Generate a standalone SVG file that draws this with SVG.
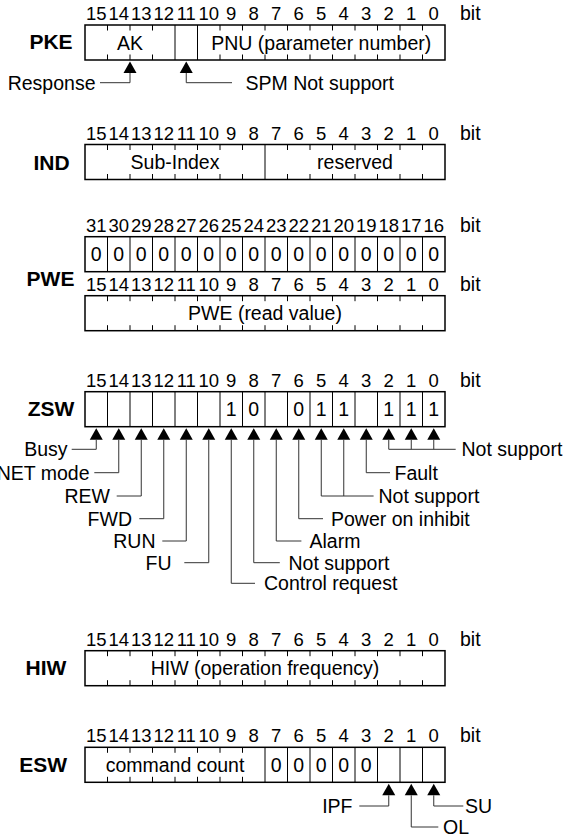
<svg xmlns="http://www.w3.org/2000/svg" xmlns:xlink="http://www.w3.org/1999/xlink" width="566" height="838" viewBox="0 0 566 838">
<style>
text{font-family:"Liberation Sans",Arial,Helvetica,sans-serif;font-size:19.5px;fill:#000}
.c{text-anchor:middle}
.n text{font-size:18.5px}
.e{text-anchor:end}
.h{font-weight:bold;font-size:21px;text-anchor:middle}
.box{fill:#fff;stroke:#000;stroke-width:1.5}
.ln{fill:none;stroke:#000;stroke-width:1}
.cn{fill:none;stroke:#333;stroke-width:1}
</style>
<defs>
<path id="ar" d="M0,0 L-6.5,11.5 L6.5,11.5 Z" fill="#000"/>
</defs>
<rect width="566" height="838" fill="#fff"/>

<g id="pke">
<text class="h" x="51" y="49">PKE</text>
<g class="c n"><text x="96.25" y="20">15</text><text x="118.75" y="20">14</text><text x="141.25" y="20">13</text><text x="163.75" y="20">12</text><text x="186.25" y="20">11</text><text x="208.75" y="20">10</text><text x="231.25" y="20">9</text><text x="253.75" y="20">8</text><text x="276.25" y="20">7</text><text x="298.75" y="20">6</text><text x="321.25" y="20">5</text><text x="343.75" y="20">4</text><text x="366.25" y="20">3</text><text x="388.75" y="20">2</text><text x="411.25" y="20">1</text><text x="433.75" y="20">0</text></g>
<text x="460" y="20">bit</text>
<rect class="box" x="85" y="25" width="360" height="35"/>
<path class="ln" d="M107.5,25v5.5M130,25v5.5M152.5,25v5.5M220,25v5.5M242.5,25v5.5M265,25v5.5M287.5,25v5.5M310,25v5.5M332.5,25v5.5M355,25v5.5M377.5,25v5.5M400,25v5.5M422.5,25v5.5M107.5,60v-5.5M130,60v-5.5M152.5,60v-5.5M220,60v-5.5M242.5,60v-5.5M265,60v-5.5M287.5,60v-5.5M310,60v-5.5M332.5,60v-5.5M355,60v-5.5M377.5,60v-5.5M400,60v-5.5M422.5,60v-5.5M175,25v35M197.5,25v35"/>
<text class="c" x="130" y="49.5">AK</text>
<text class="c" x="321.25" y="49.5">PNU (parameter number)</text>
</g>

<g id="ind">
<text class="h" x="51.5" y="169.5">IND</text>
<g class="c n"><text x="96.25" y="139.5">15</text><text x="118.75" y="139.5">14</text><text x="141.25" y="139.5">13</text><text x="163.75" y="139.5">12</text><text x="186.25" y="139.5">11</text><text x="208.75" y="139.5">10</text><text x="231.25" y="139.5">9</text><text x="253.75" y="139.5">8</text><text x="276.25" y="139.5">7</text><text x="298.75" y="139.5">6</text><text x="321.25" y="139.5">5</text><text x="343.75" y="139.5">4</text><text x="366.25" y="139.5">3</text><text x="388.75" y="139.5">2</text><text x="411.25" y="139.5">1</text><text x="433.75" y="139.5">0</text></g>
<text x="460" y="139.5">bit</text>
<rect class="box" x="85" y="144.5" width="360" height="35"/>
<path class="ln" d="M107.5,144.5v5.5M130,144.5v5.5M152.5,144.5v5.5M175,144.5v5.5M197.5,144.5v5.5M220,144.5v5.5M242.5,144.5v5.5M287.5,144.5v5.5M310,144.5v5.5M332.5,144.5v5.5M355,144.5v5.5M377.5,144.5v5.5M400,144.5v5.5M422.5,144.5v5.5M107.5,179.5v-5.5M130,179.5v-5.5M152.5,179.5v-5.5M175,179.5v-5.5M197.5,179.5v-5.5M220,179.5v-5.5M242.5,179.5v-5.5M287.5,179.5v-5.5M310,179.5v-5.5M332.5,179.5v-5.5M355,179.5v-5.5M377.5,179.5v-5.5M400,179.5v-5.5M422.5,179.5v-5.5M265,144.5v35"/>
<text class="c" x="175" y="169">Sub-Index</text>
<text class="c" x="355" y="169">reserved</text>
</g>

<g id="pwe">
<text class="h" x="50.5" y="285.7">PWE</text>
<g class="c n"><text x="96.25" y="232">31</text><text x="118.75" y="232">30</text><text x="141.25" y="232">29</text><text x="163.75" y="232">28</text><text x="186.25" y="232">27</text><text x="208.75" y="232">26</text><text x="231.25" y="232">25</text><text x="253.75" y="232">24</text><text x="276.25" y="232">23</text><text x="298.75" y="232">22</text><text x="321.25" y="232">21</text><text x="343.75" y="232">20</text><text x="366.25" y="232">19</text><text x="388.75" y="232">18</text><text x="411.25" y="232">17</text><text x="433.75" y="232">16</text></g>
<text x="460" y="232">bit</text>
<rect class="box" x="85" y="236.7" width="360" height="35"/>
<path class="ln" d="M107.5,236.7v35M130,236.7v35M152.5,236.7v35M175,236.7v35M197.5,236.7v35M220,236.7v35M242.5,236.7v35M265,236.7v35M287.5,236.7v35M310,236.7v35M332.5,236.7v35M355,236.7v35M377.5,236.7v35M400,236.7v35M422.5,236.7v35"/>
<g class="c"><text x="96.25" y="261.2">0</text><text x="118.75" y="261.2">0</text><text x="141.25" y="261.2">0</text><text x="163.75" y="261.2">0</text><text x="186.25" y="261.2">0</text><text x="208.75" y="261.2">0</text><text x="231.25" y="261.2">0</text><text x="253.75" y="261.2">0</text><text x="276.25" y="261.2">0</text><text x="298.75" y="261.2">0</text><text x="321.25" y="261.2">0</text><text x="343.75" y="261.2">0</text><text x="366.25" y="261.2">0</text><text x="388.75" y="261.2">0</text><text x="411.25" y="261.2">0</text><text x="433.75" y="261.2">0</text></g>
<g class="c n"><text x="96.25" y="290.5">15</text><text x="118.75" y="290.5">14</text><text x="141.25" y="290.5">13</text><text x="163.75" y="290.5">12</text><text x="186.25" y="290.5">11</text><text x="208.75" y="290.5">10</text><text x="231.25" y="290.5">9</text><text x="253.75" y="290.5">8</text><text x="276.25" y="290.5">7</text><text x="298.75" y="290.5">6</text><text x="321.25" y="290.5">5</text><text x="343.75" y="290.5">4</text><text x="366.25" y="290.5">3</text><text x="388.75" y="290.5">2</text><text x="411.25" y="290.5">1</text><text x="433.75" y="290.5">0</text></g>
<text x="460" y="290.5">bit</text>
<rect class="box" x="85" y="295.7" width="360" height="35"/>
<path class="ln" d="M107.5,295.7v5.5M130,295.7v5.5M152.5,295.7v5.5M175,295.7v5.5M197.5,295.7v5.5M220,295.7v5.5M242.5,295.7v5.5M265,295.7v5.5M287.5,295.7v5.5M310,295.7v5.5M332.5,295.7v5.5M355,295.7v5.5M377.5,295.7v5.5M400,295.7v5.5M422.5,295.7v5.5M107.5,330.7v-5.5M130,330.7v-5.5M152.5,330.7v-5.5M175,330.7v-5.5M197.5,330.7v-5.5M220,330.7v-5.5M242.5,330.7v-5.5M265,330.7v-5.5M287.5,330.7v-5.5M310,330.7v-5.5M332.5,330.7v-5.5M355,330.7v-5.5M377.5,330.7v-5.5M400,330.7v-5.5M422.5,330.7v-5.5"/>
<text class="c" x="265" y="320.2">PWE (read value)</text>
</g>

<g id="zsw">
<text class="h" x="51" y="415.7">ZSW</text>
<g class="c n"><text x="96.25" y="387">15</text><text x="118.75" y="387">14</text><text x="141.25" y="387">13</text><text x="163.75" y="387">12</text><text x="186.25" y="387">11</text><text x="208.75" y="387">10</text><text x="231.25" y="387">9</text><text x="253.75" y="387">8</text><text x="276.25" y="387">7</text><text x="298.75" y="387">6</text><text x="321.25" y="387">5</text><text x="343.75" y="387">4</text><text x="366.25" y="387">3</text><text x="388.75" y="387">2</text><text x="411.25" y="387">1</text><text x="433.75" y="387">0</text></g>
<text x="460" y="387">bit</text>
<rect class="box" x="85" y="391.7" width="360" height="35"/>
<path class="ln" d="M107.5,391.7v35M130,391.7v35M152.5,391.7v35M175,391.7v35M197.5,391.7v35M220,391.7v35M242.5,391.7v35M265,391.7v35M287.5,391.7v35M310,391.7v35M332.5,391.7v35M355,391.7v35M377.5,391.7v35M400,391.7v35M422.5,391.7v35"/>
<g class="c"><text x="231.25" y="416.2">1</text><text x="253.75" y="416.2">0</text><text x="298.75" y="416.2">0</text><text x="321.25" y="416.2">1</text><text x="343.75" y="416.2">1</text><text x="388.75" y="416.2">1</text><text x="411.25" y="416.2">1</text><text x="433.75" y="416.2">1</text></g>
</g>

<g id="hiw">
<text class="h" x="46" y="675.2">HIW</text>
<g class="c n"><text x="96.25" y="645.5">15</text><text x="118.75" y="645.5">14</text><text x="141.25" y="645.5">13</text><text x="163.75" y="645.5">12</text><text x="186.25" y="645.5">11</text><text x="208.75" y="645.5">10</text><text x="231.25" y="645.5">9</text><text x="253.75" y="645.5">8</text><text x="276.25" y="645.5">7</text><text x="298.75" y="645.5">6</text><text x="321.25" y="645.5">5</text><text x="343.75" y="645.5">4</text><text x="366.25" y="645.5">3</text><text x="388.75" y="645.5">2</text><text x="411.25" y="645.5">1</text><text x="433.75" y="645.5">0</text></g>
<text x="460" y="645.5">bit</text>
<rect class="box" x="85" y="650.7" width="360" height="35"/>
<path class="ln" d="M107.5,650.7v5.5M130,650.7v5.5M152.5,650.7v5.5M175,650.7v5.5M197.5,650.7v5.5M220,650.7v5.5M242.5,650.7v5.5M265,650.7v5.5M287.5,650.7v5.5M310,650.7v5.5M332.5,650.7v5.5M355,650.7v5.5M377.5,650.7v5.5M400,650.7v5.5M422.5,650.7v5.5M107.5,685.7v-5.5M130,685.7v-5.5M152.5,685.7v-5.5M175,685.7v-5.5M197.5,685.7v-5.5M220,685.7v-5.5M242.5,685.7v-5.5M265,685.7v-5.5M287.5,685.7v-5.5M310,685.7v-5.5M332.5,685.7v-5.5M355,685.7v-5.5M377.5,685.7v-5.5M400,685.7v-5.5M422.5,685.7v-5.5"/>
<text class="c" x="265" y="675.2">HIW (operation frequency)</text>
</g>

<g id="esw">
<text class="h" x="43.2" y="771.8">ESW</text>
<g class="c n"><text x="96.25" y="742.3">15</text><text x="118.75" y="742.3">14</text><text x="141.25" y="742.3">13</text><text x="163.75" y="742.3">12</text><text x="186.25" y="742.3">11</text><text x="208.75" y="742.3">10</text><text x="231.25" y="742.3">9</text><text x="253.75" y="742.3">8</text><text x="276.25" y="742.3">7</text><text x="298.75" y="742.3">6</text><text x="321.25" y="742.3">5</text><text x="343.75" y="742.3">4</text><text x="366.25" y="742.3">3</text><text x="388.75" y="742.3">2</text><text x="411.25" y="742.3">1</text><text x="433.75" y="742.3">0</text></g>
<text x="460" y="742.3">bit</text>
<rect class="box" x="85" y="747.3" width="360" height="35"/>
<path class="ln" d="M107.5,747.3v5.5M130,747.3v5.5M152.5,747.3v5.5M175,747.3v5.5M197.5,747.3v5.5M220,747.3v5.5M242.5,747.3v5.5M107.5,782.3v-5.5M130,782.3v-5.5M152.5,782.3v-5.5M175,782.3v-5.5M197.5,782.3v-5.5M220,782.3v-5.5M242.5,782.3v-5.5M265,747.3v35M287.5,747.3v35M310,747.3v35M332.5,747.3v35M355,747.3v35M377.5,747.3v35M400,747.3v35M422.5,747.3v35"/>
<text class="c" x="175" y="771.8">command count</text>
<g class="c"><text x="276.25" y="771.8">0</text><text x="298.75" y="771.8">0</text><text x="321.25" y="771.8">0</text><text x="343.75" y="771.8">0</text><text x="366.25" y="771.8">0</text></g>
</g>

<g id="connectors">
<use xlink:href="#ar" x="130" y="61.5"/>
<use xlink:href="#ar" x="186.25" y="61.5"/>
<path class="cn" d="M130,73V82.7H100M186.25,73V82.7H232"/>
<use xlink:href="#ar" x="96.25" y="428.2"/>
<use xlink:href="#ar" x="118.75" y="428.2"/>
<use xlink:href="#ar" x="141.25" y="428.2"/>
<use xlink:href="#ar" x="163.75" y="428.2"/>
<use xlink:href="#ar" x="186.25" y="428.2"/>
<use xlink:href="#ar" x="208.75" y="428.2"/>
<use xlink:href="#ar" x="231.25" y="428.2"/>
<use xlink:href="#ar" x="253.75" y="428.2"/>
<use xlink:href="#ar" x="276.25" y="428.2"/>
<use xlink:href="#ar" x="298.75" y="428.2"/>
<use xlink:href="#ar" x="321.25" y="428.2"/>
<use xlink:href="#ar" x="343.75" y="428.2"/>
<use xlink:href="#ar" x="366.25" y="428.2"/>
<use xlink:href="#ar" x="388.75" y="428.2"/>
<use xlink:href="#ar" x="411.25" y="428.2"/>
<use xlink:href="#ar" x="433.75" y="428.2"/>
<path class="cn" d="M96.25,439.7V449.3H71.7M118.75,439.7V472.7H94.3M141.25,439.7V496H116.7M163.75,439.7V518.7H139.3M186.25,439.7V541H162.3M208.75,439.7V562.7H184.3M231.25,439.7V583.3H255M253.75,439.7V562.7H279.8M276.25,439.7V541H301.4M298.75,439.7V518.7H323M321.25,439.7V496H373.6M343.75,439.7V496M366.25,439.7V472.7H390M388.75,439.7V449.3H455.7M411.25,439.7V449.3M433.75,439.7V449.3"/>
<use xlink:href="#ar" x="388.75" y="783.8"/>
<use xlink:href="#ar" x="411.25" y="783.8"/>
<use xlink:href="#ar" x="433.75" y="783.8"/>
<path class="cn" d="M388.75,795.3V806H359.3M411.25,795.3V827H438.3M433.75,795.3V806H463.3"/>
</g>

<g id="labels">
<text class="e" x="95.5" y="89.7">Response</text>
<text x="245.5" y="89.7">SPM Not support</text>
<text class="e" x="67.5" y="456.3">Busy</text>
<text class="e" x="89.5" y="479.7">NET mode</text>
<text class="e" x="110" y="503">REW</text>
<text class="e" x="132" y="525.7">FWD</text>
<text class="e" x="155.5" y="548">RUN</text>
<text class="e" x="171.5" y="569.7">FU</text>
<text x="264" y="590.3">Control request</text>
<text x="288.5" y="569.7">Not support</text>
<text x="309.5" y="548">Alarm</text>
<text x="331" y="525.7">Power on inhibit</text>
<text x="378.5" y="503">Not support</text>
<text x="394.5" y="479.7">Fault</text>
<text x="461.5" y="456.3">Not support</text>
<text class="e" x="352.5" y="813">IPF</text>
<text x="443" y="834">OL</text>
<text x="465" y="813">SU</text>
</g>
</svg>
